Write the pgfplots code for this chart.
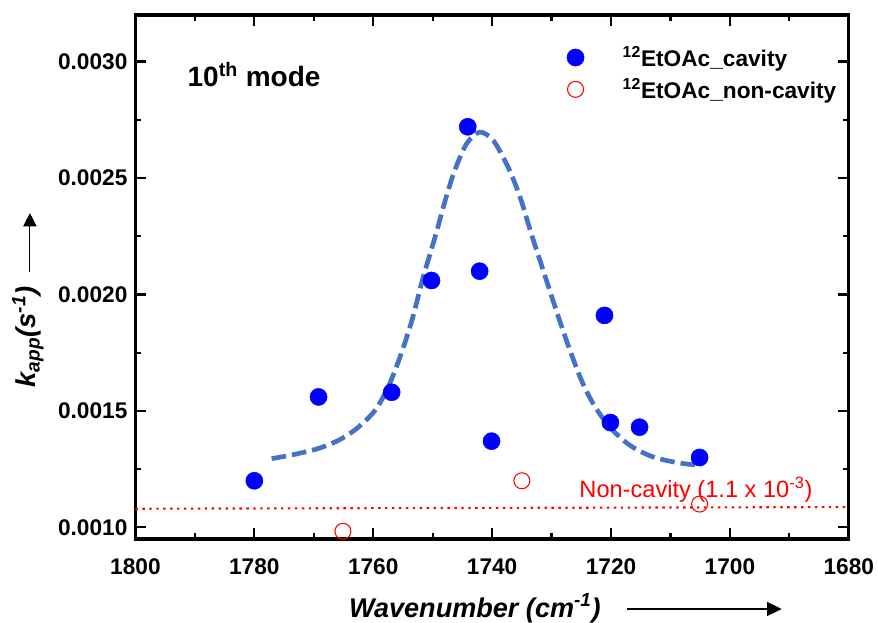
\documentclass[border=0pt]{standalone}
\usepackage{fontspec}
\setmainfont{Liberation Sans}
\usepackage{pgfplots}
\usepackage{pgfplotstable}
\pgfplotsset{compat=1.18}
\usetikzlibrary{arrows.meta}

\definecolor{fitblue}{RGB}{68,114,196}

% rate constants inside the cavity
\pgfplotstableread{
x y
1780.0 0.00120
1769.2 0.00156
1756.9 0.00158
1750.2 0.00206
1744.1 0.00272
1742.1 0.00210
1740.1 0.00137
1721.1 0.00191
1720.1 0.00145
1715.2 0.00143
1705.1 0.00130
}\cavity

% rate constants outside the cavity
\pgfplotstableread{
x y
1765.1 0.000983
1735.0 0.00120
1705.1 0.00110
}\noncavity

% fitted peak
\pgfplotstableread{
x y
1777.1 0.001295
1773.5 0.001312
1769.3 0.001338
1765.9 0.001373
1762.8 0.001424
1759.7 0.001502
1757.5 0.001602
1755.5 0.001731
1753.5 0.001888
1751.6 0.002074
1749.6 0.002246
1747.9 0.002403
1746.3 0.002532
1744.3 0.002647
1742.1 0.002697
1739.8 0.002661
1737.3 0.002546
1735.3 0.002418
1733.4 0.002260
1731.4 0.002103
1729.4 0.001946
1727.5 0.001803
1725.2 0.001645
1723.0 0.001531
1720.2 0.001430
1716.8 0.001352
1712.9 0.001302
1708.4 0.001276
1704.8 0.001266
}\fitcurve

\begin{document}
\begin{tikzpicture}
\begin{axis}[
  scale only axis, width=535pt, height=393pt,
  x dir=reverse,
  xmin=1680, xmax=1800, ymin=0.00095, ymax=0.0032,
  xtick={1680,1700,1720,1740,1760,1780,1800},
  ytick={0.0010,0.0015,0.0020,0.0025,0.0030},
  minor x tick num=1, minor y tick num=1,
  tick pos=both, tick align=inside,
  major tick length=8pt, minor tick length=4.5pt,
  every tick/.append style={black, line width=1.7pt},
  axis line style={line width=2.3pt},
  scaled y ticks=false, scaled x ticks=false,
  /pgf/number format/assume math mode=true,
  /pgf/number format/1000 sep={},
  yticklabel style={xshift=-2.5pt, /pgf/number format/fixed,
    /pgf/number format/fixed zerofill, /pgf/number format/precision=4},
  tick label style={font=\bfseries\fontsize{17}{19}\selectfont},
  xticklabel style={yshift=-11.5pt},
  clip=false,
  legend cell align=left,
  legend style={at={(axis description cs:0.599,0.95)}, anchor=north west,
    draw=none, fill=none, font=\bfseries\fontsize{17}{20.5}\selectfont,
    row sep=3.8pt,
    /tikz/every odd column/.append style={column sep=27pt}},
]
\addplot[only marks, mark=*, mark size=6.4pt, blue, mark options={fill=blue, draw=blue}]
  table[x=x, y=y] {\cavity};
\addlegendentry{\textsuperscript{12}EtOAc\_cavity}
\addplot[only marks, mark=o, mark size=6pt, red, mark options={line width=0.8pt, fill=none}]
  table[x=x, y=y] {\noncavity};
\addlegendentry{\textsuperscript{12}EtOAc\_non-cavity}

\addplot[forget plot, red, line width=1.6pt, dash pattern=on 1.8pt off 3.4pt]
  coordinates {(1800,0.00108) (1680,0.001087)};
\addplot[forget plot, fitblue, line width=3.5pt, dash pattern=on 11pt off 4.5pt, smooth]
  table[x=x, y=y] {\fitcurve};

\node[red, anchor=base west, font=\fontsize{17.7}{19}\selectfont]
  at (axis cs:1726.1,0.00113) {Non-cavity (1.1 x 10\textsuperscript{-3})};
\node[anchor=base west, font=\bfseries\fontsize{21}{24}\selectfont]
  at (axis description cs:0.0666,0.8626) {10\textsuperscript{th} mode};

% axis titles with direction arrows
\node[rotate=90, font=\bfseries\itshape\fontsize{20.5}{22}\selectfont]
  at (axis description cs:-0.1507,0.386) {k\textsubscript{app}(s\textsuperscript{-1})};
\draw[-{Triangle[length=10pt,width=10pt]}, line width=0.8pt]
  (axis description cs:-0.148,0.51) -- (axis description cs:-0.148,0.622);
\node[anchor=base, font=\bfseries\itshape\fontsize{20.3}{22}\selectfont]
  at (axis description cs:0.4758,-0.1489) {Wavenumber (cm\textsuperscript{-1})};
\draw[-{Triangle[length=11pt,width=10.5pt]}, line width=0.8pt]
  (axis description cs:0.689,-0.1336) -- (axis description cs:0.906,-0.1336);
\end{axis}
\pgfresetboundingbox
\path (current axis.south west) ++(-101.6pt,-63pt) rectangle ++(658.5pt,467.25pt);
\end{tikzpicture}
\end{document}
